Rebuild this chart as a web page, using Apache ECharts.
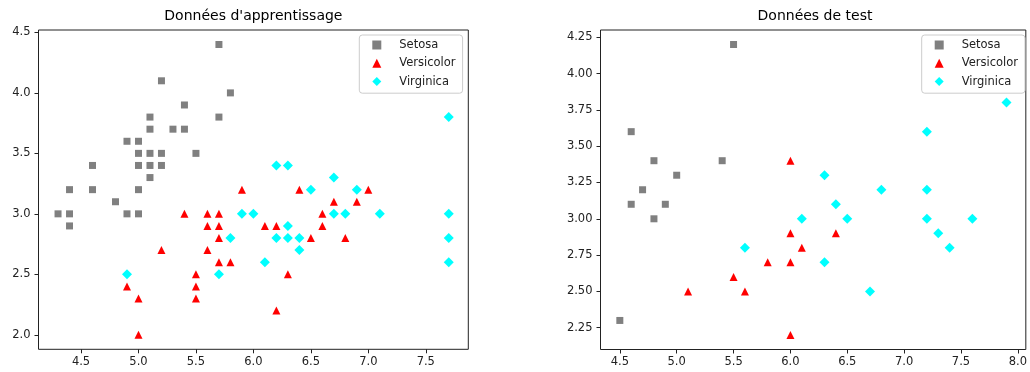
<!DOCTYPE html>
<html>
<head>
<meta charset="utf-8">
<script src="https://cdn.jsdelivr.net/npm/echarts@6/dist/echarts.min.js"></script>
<style>
  html, body { margin: 0; padding: 0; background: #fff; }
  #chart { width: 1030px; height: 372px; }
</style>
</head>
<body>
<div id="chart"></div>
<script>
// données d'apprentissage (longueur sépale, largeur sépale)
const trainSetosa = [
    [5.7, 4.4], [5.2, 4.1], [5.8, 4.0], [5.4, 3.9], [5.1, 3.8], [5.7, 3.8], [5.1, 3.7], [5.3, 3.7],
    [5.4, 3.7], [4.9, 3.6], [5.0, 3.6], [5.0, 3.5], [5.1, 3.5], [5.2, 3.5], [5.5, 3.5], [4.6, 3.4],
    [5.0, 3.4], [5.1, 3.4], [5.2, 3.4], [5.1, 3.3], [4.4, 3.2], [4.6, 3.2], [5.0, 3.2], [4.8, 3.1],
    [4.3, 3.0], [4.4, 3.0], [4.9, 3.0], [5.0, 3.0], [4.4, 2.9]
];
const trainVersicolor = [
    [5.9, 3.2], [6.4, 3.2], [7.0, 3.2], [6.7, 3.1], [6.9, 3.1], [5.4, 3.0], [5.6, 3.0], [5.7, 3.0],
    [6.6, 3.0], [5.6, 2.9], [5.7, 2.9], [6.1, 2.9], [6.2, 2.9], [6.6, 2.9], [5.7, 2.8], [6.5, 2.8],
    [6.8, 2.8], [5.2, 2.7], [5.6, 2.7], [5.7, 2.6], [5.8, 2.6], [5.5, 2.5], [6.3, 2.5], [4.9, 2.4],
    [5.5, 2.4], [5.0, 2.3], [5.5, 2.3], [6.2, 2.2], [5.0, 2.0]
];
const trainVirginica = [
    [6.2, 3.4], [6.3, 3.4], [6.7, 3.3], [6.5, 3.2], [6.9, 3.2], [5.9, 3.0], [6.0, 3.0], [6.7, 3.0],
    [6.8, 3.0], [7.1, 3.0], [6.3, 2.9], [5.8, 2.8], [6.2, 2.8], [6.3, 2.8], [6.4, 2.8], [6.4, 2.7],
    [6.1, 2.6], [4.9, 2.5], [5.7, 2.5], [7.7, 3.8], [7.7, 3.0], [7.7, 2.8], [7.7, 2.6]
];

// données de test
const testSetosa = [
    [5.5, 4.2], [4.6, 3.6], [4.8, 3.4], [5.4, 3.4], [5.0, 3.3], [4.7, 3.2], [4.6, 3.1], [4.9, 3.1],
    [4.8, 3.0], [4.5, 2.3]
];
const testVersicolor = [
    [6.0, 3.4], [6.0, 2.9], [6.4, 2.9], [6.1, 2.8], [5.8, 2.7], [6.0, 2.7], [5.5, 2.6], [5.1, 2.5],
    [5.6, 2.5], [6.0, 2.2]
];
const testVirginica = [
    [7.9, 3.8], [7.2, 3.6], [6.3, 3.3], [6.8, 3.2], [7.2, 3.2], [6.4, 3.1], [6.1, 3.0], [6.5, 3.0],
    [7.2, 3.0], [7.6, 3.0], [7.3, 2.9], [7.4, 2.8], [5.6, 2.8], [6.3, 2.7], [6.7, 2.5]
];

// graduations
const trainXTicks = [4.5, 5.0, 5.5, 6.0, 6.5, 7.0, 7.5];
const trainYTicks = [2.0, 2.5, 3.0, 3.5, 4.0, 4.5];
const testXTicks = [4.5, 5.0, 5.5, 6.0, 6.5, 7.0, 7.5, 8.0];
const testYTicks = [2.25, 2.50, 2.75, 3.00, 3.25, 3.50, 3.75, 4.00, 4.25];

const classNames = ['Setosa', 'Versicolor', 'Virginica'];

const FONT = 'DejaVu Sans';
const INK = '#222';

const styles = {
    Setosa: { symbol: 'rect', size: 7, color: '#808080' },
    Versicolor: { symbol: 'triangle', size: 8, color: '#ff0000' },
    Virginica: { symbol: 'diamond', size: 10, color: '#00ffff' }
};

const makeX = (gridIndex, min, max, ticks, digits) => ({
    type: 'value', gridIndex, min, max,
    axisLine: { show: false },
    axisTick: { show: true, length: 4, inside: false, customValues: ticks, lineStyle: { color: INK, width: 1 } },
    axisLabel: { customValues: ticks, margin: 7, color: INK, fontFamily: FONT, fontSize: 11.5,
        formatter: v => Number(v).toFixed(digits) },
    splitLine: { show: false }
});

const makeY = (gridIndex, min, max, ticks, digits) => ({
    type: 'value', gridIndex, min, max,
    axisLine: { show: false },
    axisTick: { show: true, length: 4, inside: false, customValues: ticks, lineStyle: { color: INK, width: 1 } },
    axisLabel: { customValues: ticks, margin: 8, color: INK, fontFamily: FONT, fontSize: 11.5,
        formatter: v => Number(v).toFixed(digits) },
    splitLine: { show: false }
});

const makeSeries = (name, data, idx) => ({
    name, type: 'scatter', data,
    xAxisIndex: idx, yAxisIndex: idx,
    symbol: styles[name].symbol,
    symbolSize: styles[name].size,
    itemStyle: { color: styles[name].color, opacity: 1 },
    emphasis: { disabled: true }
});

// légende façon matplotlib : marqueur centré à ~17px du bord, texte à ~40px
const makeLegend = (left) => ({
    data: classNames,
    orient: 'vertical',
    left, top: 35,
    itemWidth: 9, itemHeight: 9, itemGap: 4.3,
    padding: [3, 7, 4.6, 13],
    backgroundColor: 'rgba(255,255,255,0.8)',
    borderColor: '#cccccc', borderWidth: 1, borderRadius: 3,
    textStyle: { color: INK, fontFamily: FONT, fontSize: 11.5, lineHeight: 14, padding: [0, 0, 0, 13] },
    selectedMode: false
});

const chart = echarts.init(document.getElementById('chart'), null, { renderer: 'canvas' });

chart.setOption({
    animation: false,
    backgroundColor: '#fff',
    title: [
        { text: "Données d'apprentissage", left: 253.4, top: 9.5, textAlign: 'center', padding: 0,
          textStyle: { fontFamily: FONT, fontSize: 14, fontWeight: 'normal', color: '#000' } },
        { text: 'Données de test', left: 815, top: 9.5, textAlign: 'center', padding: 0,
          textStyle: { fontFamily: FONT, fontSize: 14, fontWeight: 'normal', color: '#000' } }
    ],
    legend: [makeLegend(359.3), makeLegend(921.7)],
    grid: [
        { left: 38.5, top: 30, width: 429.8, height: 319.3, show: true, borderColor: INK, borderWidth: 1, backgroundColor: 'transparent' },
        { left: 600.5, top: 30, width: 429, height: 319.5, show: true, borderColor: INK, borderWidth: 1, backgroundColor: 'transparent' }
    ],
    xAxis: [
        makeX(0, 4.13, 7.87, trainXTicks, 1),
        makeX(1, 4.33, 8.07, testXTicks, 1)
    ],
    yAxis: [
        makeY(0, 1.88, 4.52, trainYTicks, 1),
        makeY(1, 2.1, 4.3, testYTicks, 2)
    ],
    series: [
        makeSeries('Setosa', trainSetosa, 0),
        makeSeries('Versicolor', trainVersicolor, 0),
        makeSeries('Virginica', trainVirginica, 0),
        makeSeries('Setosa', testSetosa, 1),
        makeSeries('Versicolor', testVersicolor, 1),
        makeSeries('Virginica', testVirginica, 1)
    ]
});
</script>
</body>
</html>
